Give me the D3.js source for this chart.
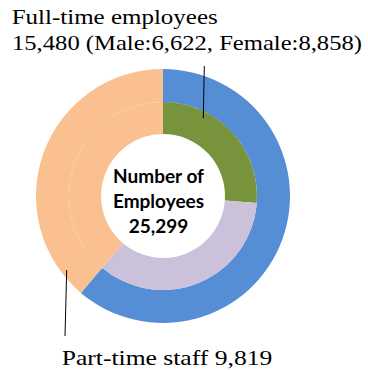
<!DOCTYPE html>
<html>
<head>
<meta charset="utf-8">
<script src="https://cdn.jsdelivr.net/npm/d3@7"></script>
<style>
  html, body { margin: 0; padding: 0; background: #fff; }
  svg { display: block; }
</style>
</head>
<body>
<svg id="chart" width="368" height="370"></svg>
<script>
// ---- data ----
const outerLabels = ["Full-time employees", "Part-time staff"];
const outerValues = [15480, 9819];
const innerLabels = ["Male", "Female", "Part-time staff"];
const innerValues = [6622, 8858, 9819];
const totalEmployees = 25299;

const outerColors = ["#558ED5", "#FAC090"];
const innerColors = ["#77933C", "#CCC1DA", "#FAC090"];

const svg = d3.select("#chart");
const cx = 163, cy = 196;
const g = svg.append("g").attr("transform", `translate(${cx},${cy})`);

const pie = d3.pie().sort(null).value(d => d.v);

const outerData = pie(outerLabels.map((l, i) => ({ l, v: outerValues[i] })));
const innerData = pie(innerLabels.map((l, i) => ({ l, v: innerValues[i] })));

const outerArc = d3.arc().innerRadius(94).outerRadius(127);
const innerArc = d3.arc().innerRadius(62).outerRadius(94);

g.selectAll("path.outer").data(outerData).join("path")
  .attr("class", "outer")
  .attr("d", outerArc)
  .attr("fill", (d, i) => outerColors[i]);

g.selectAll("path.inner").data(innerData).join("path")
  .attr("class", "inner")
  .attr("d", innerArc)
  .attr("fill", (d, i) => innerColors[i]);

// leader lines
svg.append("line").attr("x1", 204.3).attr("y1", 66).attr("x2", 203.3).attr("y2", 118.3)
  .attr("stroke", "#000").attr("stroke-width", 1);
svg.append("line").attr("x1", 66.7).attr("y1", 270).attr("x2", 65).attr("y2", 336)
  .attr("stroke", "#000").attr("stroke-width", 1);

// labels
const fmt = d3.format(",");
const serif = "'Liberation Serif', 'DejaVu Serif', serif";
function serifText(x, y, txt, len) {
  svg.append("text").attr("x", x).attr("y", y)
    .attr("font-family", serif).attr("font-size", 21.5).attr("fill", "#000")
    .attr("textLength", len).attr("lengthAdjust", "spacingAndGlyphs")
    .text(txt);
}
serifText(11.7, 23.5, outerLabels[0], 206);
serifText(12, 49.5, `${fmt(outerValues[0])} (${innerLabels[0]}:${fmt(innerValues[0])}, ${innerLabels[1]}:${fmt(innerValues[1])})`, 350);
serifText(61.7, 364.5, `${outerLabels[1]} ${fmt(outerValues[1])}`, 210.6);

// center text
const center = svg.append("text")
  .attr("text-anchor", "middle")
  .attr("font-family", "Lato, 'Open Sans', sans-serif")
  .attr("font-weight", "bold").attr("font-size", 19).attr("fill", "#000");
["Number of", "Employees", fmt(totalEmployees)].forEach((t, i) => {
  center.append("tspan").attr("x", 158.5).attr("y", 182.7 + i * 25).text(t);
});
</script>
</body>
</html>
